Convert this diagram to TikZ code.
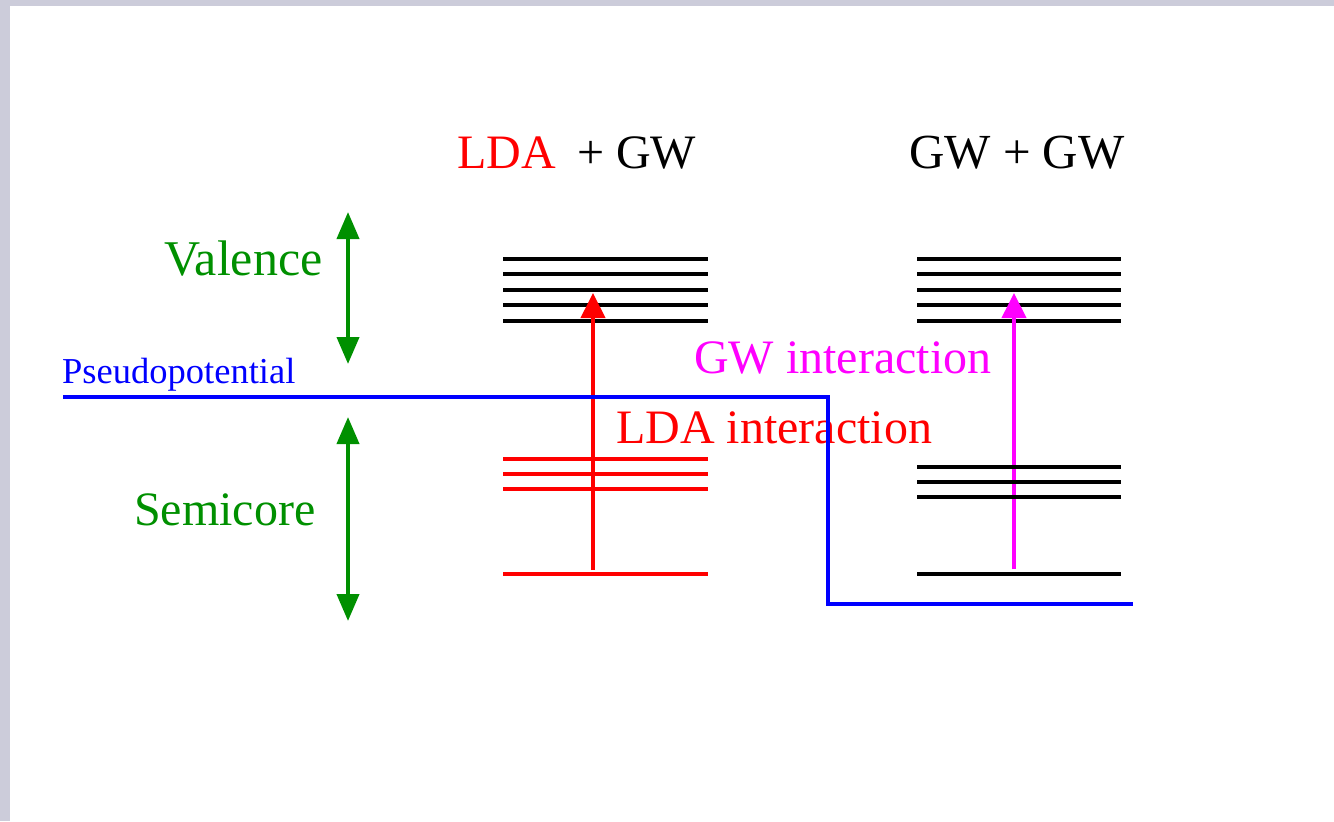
\documentclass[tikz,border=0pt]{standalone}
\usepackage{fontspec}
\setmainfont{Liberation Serif}
\usetikzlibrary{arrows.meta}
\definecolor{bordergray}{RGB}{204,204,218}
\definecolor{figgreen}{RGB}{0,144,0}
\definecolor{figmagenta}{RGB}{255,0,255}
\definecolor{figred}{RGB}{255,0,0}
\definecolor{figblue}{RGB}{0,0,255}
\newcommand\bigtxt{\fontsize{48bp}{58bp}\selectfont}
\newcommand\valtxt{\fontsize{50bp}{60bp}\selectfont}
\newcommand\ttltxt{\fontsize{49bp}{59bp}\selectfont}
\newcommand\midtxt{\fontsize{36.5bp}{44bp}\selectfont}
\begin{document}
\begin{tikzpicture}[x=1bp,y=-1bp,
  levelline/.style={line width=4bp},
  txtlabel/.style={inner sep=0pt,anchor=base west,font=\bigtxt},
  uparrow/.style={line width=4bp,-{Triangle[width=24bp,length=25bp]}},
  greenrange/.style={line width=4bp,figgreen,{Triangle[width=22bp,length=27bp]}-{Triangle[width=22bp,length=27bp]}}]
\useasboundingbox (0,0) rectangle (1334,821);
\fill[white] (0,0) rectangle (1334,821);
\fill[bordergray] (0,0) rectangle (1334,6);
\fill[bordergray] (0,0) rectangle (10,821);

% titles
\node[txtlabel,text=figred] (ttlA) at (457,168) {LDA};
\node[txtlabel] (ttlB) at (577,168) {+ GW};
\node[txtlabel,font=\ttltxt] (ttlC) at (909,168) {GW + GW};

% side labels
\node[txtlabel,font=\valtxt,text=figgreen] (val) at (164,275) {Valence};
\node[txtlabel,text=figgreen] (semi) at (134,525) {Semicore};
\node[txtlabel,font=\midtxt,text=figblue] (pseudo) at (62,383) {Pseudopotential};
\node[txtlabel,text=figmagenta] (gwint) at (694,373) {GW interaction};
\node[txtlabel,text=figred] (ldaint) at (616,443) {LDA interaction};

% green ranges
\coordinate (vtop) at (348,212);
\coordinate (vbot) at (348,364);
\coordinate (stop) at (348,417);
\coordinate (sbot) at (348,621);
\draw[greenrange] (vtop) -- (vbot);
\draw[greenrange] (stop) -- (sbot);

% valence levels
\foreach \y in {259,274,290,305,321}{
  \draw[levelline] (503,\y) -- (708,\y);
  \draw[levelline] (917,\y) -- (1121,\y);
}

% arrows
\coordinate (ldafrom) at (593,570);
\coordinate (ldato) at (593,293);
\coordinate (gwfrom) at (1014,569);
\coordinate (gwto) at (1014,293);
\draw[uparrow,figred] (ldafrom) -- (ldato);
\draw[uparrow,figmagenta] (gwfrom) -- (gwto);

% semicore levels
\foreach \y in {459,474,489,574}{
  \draw[levelline,figred] (503,\y) -- (708,\y);
}
\foreach \y in {467,482,497,574}{
  \draw[levelline] (917,\y) -- (1121,\y);
}

% pseudopotential line
\coordinate (pp0) at (63,397);
\coordinate (pp1) at (828,397);
\coordinate (pp2) at (828,604);
\coordinate (pp3) at (1133,604);
\draw[line width=4bp,figblue] (pp0) -- (pp1) -- (pp2) -- (pp3);
\end{tikzpicture}
\end{document}
